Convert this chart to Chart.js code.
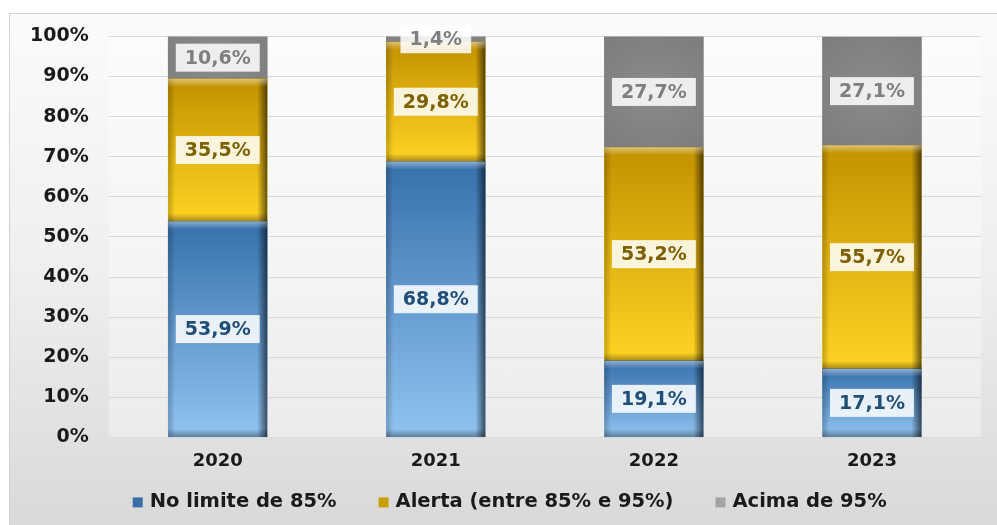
<!DOCTYPE html>
<html>
<head>
<meta charset="utf-8">
<script src="https://cdn.jsdelivr.net/npm/chart.js@4"></script>
<style>
  html, body { margin: 0; padding: 0; background: #ffffff; }
  body { width: 997px; height: 525px; overflow: hidden; position: relative; }
  .wrap {
    position: absolute; left: 9px; top: 13px;
    width: 988px; height: 512px; box-sizing: border-box;
    border-top: 1px solid #d2d2d2; border-left: 1px solid #d2d2d2;
    background: linear-gradient(to bottom, #fbfbfb 0%, #efefef 50%, #d9d9d9 100%);
  }
  #barChart { position: absolute; left: -9px; top: 5px; display: block; }
</style>
</head>
<body>
<div class="wrap"></div>
<canvas id="barChart" width="1006" height="520"></canvas>
<script>
const years = ['2020', '2021', '2022', '2023'];
const noLimite = [53.9, 68.8, 19.1, 17.1];
const alerta = [35.5, 29.8, 53.2, 55.7];
const acima = [10.6, 1.4, 27.7, 27.1];
const yTicks = [0, 10, 20, 30, 40, 50, 60, 70, 80, 90, 100];
const seriesNames = ['No limite de 85%', 'Alerta (entre 85% e 95%)', 'Acima de 95%'];

const series = [noLimite, alerta, acima];
const boldFont = '"DejaVu Sans", sans-serif';

// pixel extent of one stacked segment
function segmentSpan(chart, di, i) {
    const y = chart.scales.y;
    let start = 0;
    for (let d = 0; d < di; d++) start += series[d][i];
    const end = start + series[di][i];
    return [y.getPixelForValue(end), y.getPixelForValue(start)];
}

// vertical gradient for one stacked segment
function segmentFill(top, bottom) {
    return function (ctx) {
        const chart = ctx.chart;
        if (!chart.scales.y || ctx.dataIndex === undefined) return top;
        const s = segmentSpan(chart, ctx.datasetIndex, ctx.dataIndex);
        if (!isFinite(s[0]) || !isFinite(s[1])) return top;
        const g = chart.ctx.createLinearGradient(0, s[0], 0, s[1]);
        g.addColorStop(0, top);
        g.addColorStop(1, bottom);
        return g;
    };
}

// soft radial highlight for the grey segments
function greyFill(ctx) {
    const chart = ctx.chart;
    if (!chart.scales.y || !chart.scales.x || ctx.dataIndex === undefined) return '#808080';
    const s = segmentSpan(chart, ctx.datasetIndex, ctx.dataIndex);
    const cx = chart.scales.x.getPixelForValue(ctx.dataIndex);
    const cy = (s[0] + s[1]) / 2;
    if (!isFinite(cx) || !isFinite(cy)) return '#808080';
    const g = chart.ctx.createRadialGradient(cx, cy, 0, cx, cy, 80);
    g.addColorStop(0, '#8b8b8b');
    g.addColorStop(1, '#7b7b7b');
    return g;
}

// slightly lighter plot area
const plotArea = {
    id: 'plotArea',
    beforeDraw(chart) {
        const a = chart.chartArea;
        const c = chart.ctx;
        c.save();
        c.fillStyle = 'rgba(255,255,255,0.35)';
        c.fillRect(a.left, a.top, a.right - a.left, a.bottom - a.top);
        c.restore();
    }
};

// bevelled edges on the blue and gold bars
const bevel = {
    id: 'bevel',
    afterDatasetsDraw(chart) {
        const c = chart.ctx;
        [0, 1].forEach(function (di) {
            chart.getDatasetMeta(di).data.forEach(function (bar) {
                const l = bar.x - bar.width / 2, r = bar.x + bar.width / 2;
                const t = bar.y, b = bar.base;
                c.save();
                let g = c.createLinearGradient(r - 10, 0, r, 0);
                g.addColorStop(0, 'rgba(0,0,0,0)');
                g.addColorStop(1, 'rgba(0,0,0,0.6)');
                c.fillStyle = g; c.fillRect(r - 10, t, 10, b - t);
                g = c.createLinearGradient(l, 0, l + 7, 0);
                g.addColorStop(0, 'rgba(0,0,0,0.22)');
                g.addColorStop(1, 'rgba(0,0,0,0)');
                c.fillStyle = g; c.fillRect(l, t, 7, b - t);
                g = c.createLinearGradient(0, t, 0, t + 8);
                g.addColorStop(0, 'rgba(255,255,255,0.45)');
                g.addColorStop(1, 'rgba(255,255,255,0)');
                c.fillStyle = g; c.fillRect(l, t, r - l, 8);
                g = c.createLinearGradient(0, b - 8, 0, b);
                g.addColorStop(0, 'rgba(0,0,0,0)');
                g.addColorStop(1, 'rgba(0,0,0,0.35)');
                c.fillStyle = g; c.fillRect(l, b - 8, r - l, 8);
                c.restore();
            });
        });
    }
};

// value labels in white boxes
const labelColors = ['#1f4e79', '#7f6000', '#7f7f7f'];
const valueLabels = {
    id: 'valueLabels',
    afterDatasetsDraw(chart) {
        const c = chart.ctx;
        c.save();
        c.font = 'bold 19px ' + boldFont;
        c.textAlign = 'center';
        c.textBaseline = 'middle';
        chart.data.datasets.forEach(function (ds, di) {
            chart.getDatasetMeta(di).data.forEach(function (bar, i) {
                const txt = series[di][i].toFixed(1).replace('.', ',') + '%';
                const cy = (bar.y + bar.base) / 2;
                const w = c.measureText(txt).width + 18;
                c.fillStyle = 'rgba(255,255,255,0.86)';
                c.fillRect(bar.x - w / 2, cy - 14, w, 28);
                c.fillStyle = labelColors[di];
                c.fillText(txt, bar.x, cy + 1);
            });
        });
        c.restore();
    }
};

// legend row under the category labels
const legendRow = {
    id: 'legendRow',
    afterDraw(chart) {
        const c = chart.ctx;
        const boxes = ['#3a6ea5', '#c9a000', '#a3a3a3'];
        let x = chart.chartArea.left + 24;
        const ly = chart.chartArea.bottom + 65;
        c.save();
        c.font = 'bold 19.5px ' + boldFont;
        c.textBaseline = 'middle';
        c.textAlign = 'left';
        seriesNames.forEach(function (name, i) {
            c.fillStyle = boxes[i];
            c.fillRect(x, ly - 5, 10, 10);
            x += 17;
            c.fillStyle = '#1a1a1a';
            c.fillText(name, x, ly);
            x += c.measureText(name).width + 42;
        });
        c.restore();
    }
};

const bar = document.getElementById('barChart');

new Chart(bar, {
    type: 'bar',
    data: {
        labels: years,
        datasets: [{
            label: seriesNames[0],
            data: noLimite,
            backgroundColor: segmentFill('#3670ac', '#92c4f1'),
            borderWidth: 0,
            barThickness: 99
        }, {
            label: seriesNames[1],
            data: alerta,
            backgroundColor: segmentFill('#c29200', '#ffd323'),
            borderWidth: 0,
            barThickness: 99
        }, {
            label: seriesNames[2],
            data: acima,
            backgroundColor: greyFill,
            borderWidth: 0,
            barThickness: 99
        }]
    },
    options: {
        responsive: false,
        animation: false,
        layout: {
            autoPadding: false,
            padding: { top: 22, right: 16, left: 19, bottom: 48 }
        },
        plugins: {
            legend: { display: false },
            tooltip: { enabled: false }
        },
        scales: {
            x: {
                stacked: true,
                grid: { display: false },
                border: { display: false },
                ticks: {
                    color: '#1a1a1a',
                    padding: 5,
                    font: { family: boldFont, size: 18, weight: 'bold' }
                }
            },
            y: {
                stacked: true,
                min: 0,
                max: 100,
                afterBuildTicks(axis) {
                    axis.ticks = yTicks.map(function (v) { return { value: v }; });
                },
                grid: { color: '#d9d9d9', drawTicks: false },
                border: { display: false },
                ticks: {
                    color: '#1a1a1a',
                    padding: 20,
                    font: { family: boldFont, size: 19, weight: 'bold' },
                    callback: function (v) { return v + '%'; }
                }
            }
        }
    },
    plugins: [plotArea, bevel, valueLabels, legendRow]
});
</script>
</body>
</html>
